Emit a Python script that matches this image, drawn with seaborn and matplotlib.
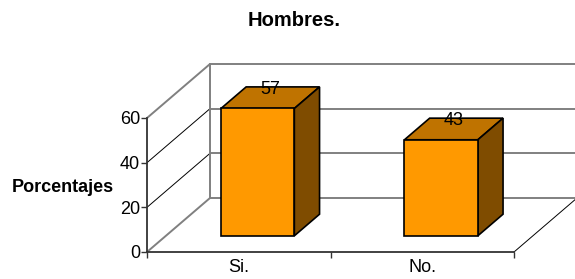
import matplotlib
matplotlib.use("Agg")
import matplotlib.pyplot as plt
from matplotlib.patches import Polygon
import seaborn as sns

# datos
categorias = ["Si.", "No."]
porcentajes = [57, 43]
ticks_y = [0, 20, 40, 60]

# depth of the 3D box (data units) and where the bars sit inside it
DX, DY = 0.3433, 24.18
D_FRONT, D_BACK = 0.3, 0.7
ANCHO = 0.4

sns.set_style("white")
plt.rcParams['font.family'] = ['Liberation Sans', 'DejaVu Sans']
plt.rcParams['text.color'] = 'black'

fig = plt.figure(figsize=(5.75, 2.79), dpi=100)
ax = fig.add_axes([147 / 575, 27 / 279, 367 / 575, 134 / 279])


def proj(x, y, d):
    return (x + d * DX, y + d * DY)


# walls: back wall gridlines, left wall diagonals, floor edge
gris = '#808080'
for v in ticks_y:
    p0 = proj(-0.5, v, 1)
    p1 = proj(1.5, v, 1)
    ax.plot([p0[0], p1[0]], [p0[1], p1[1]], color=gris, lw=1.4, clip_on=False, zorder=1)
    q0 = proj(-0.5, v, 0)
    col, lw = (gris, 1.4) if v in (0, 60) else ('black', 0.7)
    ax.plot([q0[0], p0[0]], [q0[1], p0[1]], color=col, lw=lw, clip_on=False, zorder=1)
b0 = proj(-0.5, 0, 1)
b1 = proj(-0.5, 60, 1)
ax.plot([b0[0], b1[0]], [b0[1], b1[1]], color=gris, lw=1.4, clip_on=False, zorder=1)
f0 = proj(1.5, 0, 0)
f1 = proj(1.5, 0, 1)
ax.plot([f0[0], f1[0]], [f0[1], f1[1]], color='black', lw=0.7, clip_on=False, zorder=1)

# front faces
sns.barplot(x=categorias, y=porcentajes, width=ANCHO, color='#FF9900', saturation=1,
            edgecolor='black', linewidth=1.2, ax=ax, zorder=3)
for patch in ax.patches:
    patch.set_x(patch.get_x() + D_FRONT * DX)
    patch.set_y(patch.get_y() + D_FRONT * DY)
    patch.set_clip_on(False)

# top and side faces + value labels
for i, v in enumerate(porcentajes):
    x0, x1 = i - ANCHO / 2, i + ANCHO / 2
    top = [proj(x0, v, D_FRONT), proj(x1, v, D_FRONT), proj(x1, v, D_BACK), proj(x0, v, D_BACK)]
    side = [proj(x1, 0, D_FRONT), proj(x1, v, D_FRONT), proj(x1, v, D_BACK), proj(x1, 0, D_BACK)]
    ax.add_patch(Polygon(top, closed=True, facecolor='#BF7300', edgecolor='black',
                         lw=1.2, clip_on=False, zorder=2))
    ax.add_patch(Polygon(side, closed=True, facecolor='#7F4C00', edgecolor='black',
                         lw=1.2, clip_on=False, zorder=2))
    lx, ly = proj(i, v, 0.5)
    ax.text(lx, ly, str(v), ha='center', va='bottom', fontsize=13, color='black', zorder=5)

ax.set_xlim(-0.5, 1.5)
ax.set_ylim(0, 60)
ax.set_yticks(ticks_y)
ax.set_xticks([0, 1])
ax.set_xticklabels(categorias)
ax.set_xticks([-0.5, 0.5, 1.5], minor=True)
ax.tick_params(axis='y', which='major', length=4, width=1, color='#333333',
               labelsize=13, labelcolor='black', pad=1, left=True)
ax.tick_params(axis='x', which='major', length=0, labelsize=13, labelcolor='black', pad=5)
ax.tick_params(axis='x', which='minor', length=4, width=1, color='#333333', bottom=True)
ax.set_xlabel("")
ax.set_ylabel("")
for s in ['top', 'right']:
    ax.spines[s].set_visible(False)
for s in ['left', 'bottom']:
    ax.spines[s].set_color('#333333')
    ax.spines[s].set_linewidth(1.3)
ax.patch.set_alpha(0)

fig.text(294 / 575, 1 - 20 / 279, "Hombres.", ha='center', va='center',
         fontsize=14.5, fontweight='bold', color='black')
fig.text(63 / 575, 1 - 187 / 279, "Porcentajes", ha='center', va='center',
         fontsize=13, fontweight='bold', color='black')

fig.savefig("out.png", dpi=100)
